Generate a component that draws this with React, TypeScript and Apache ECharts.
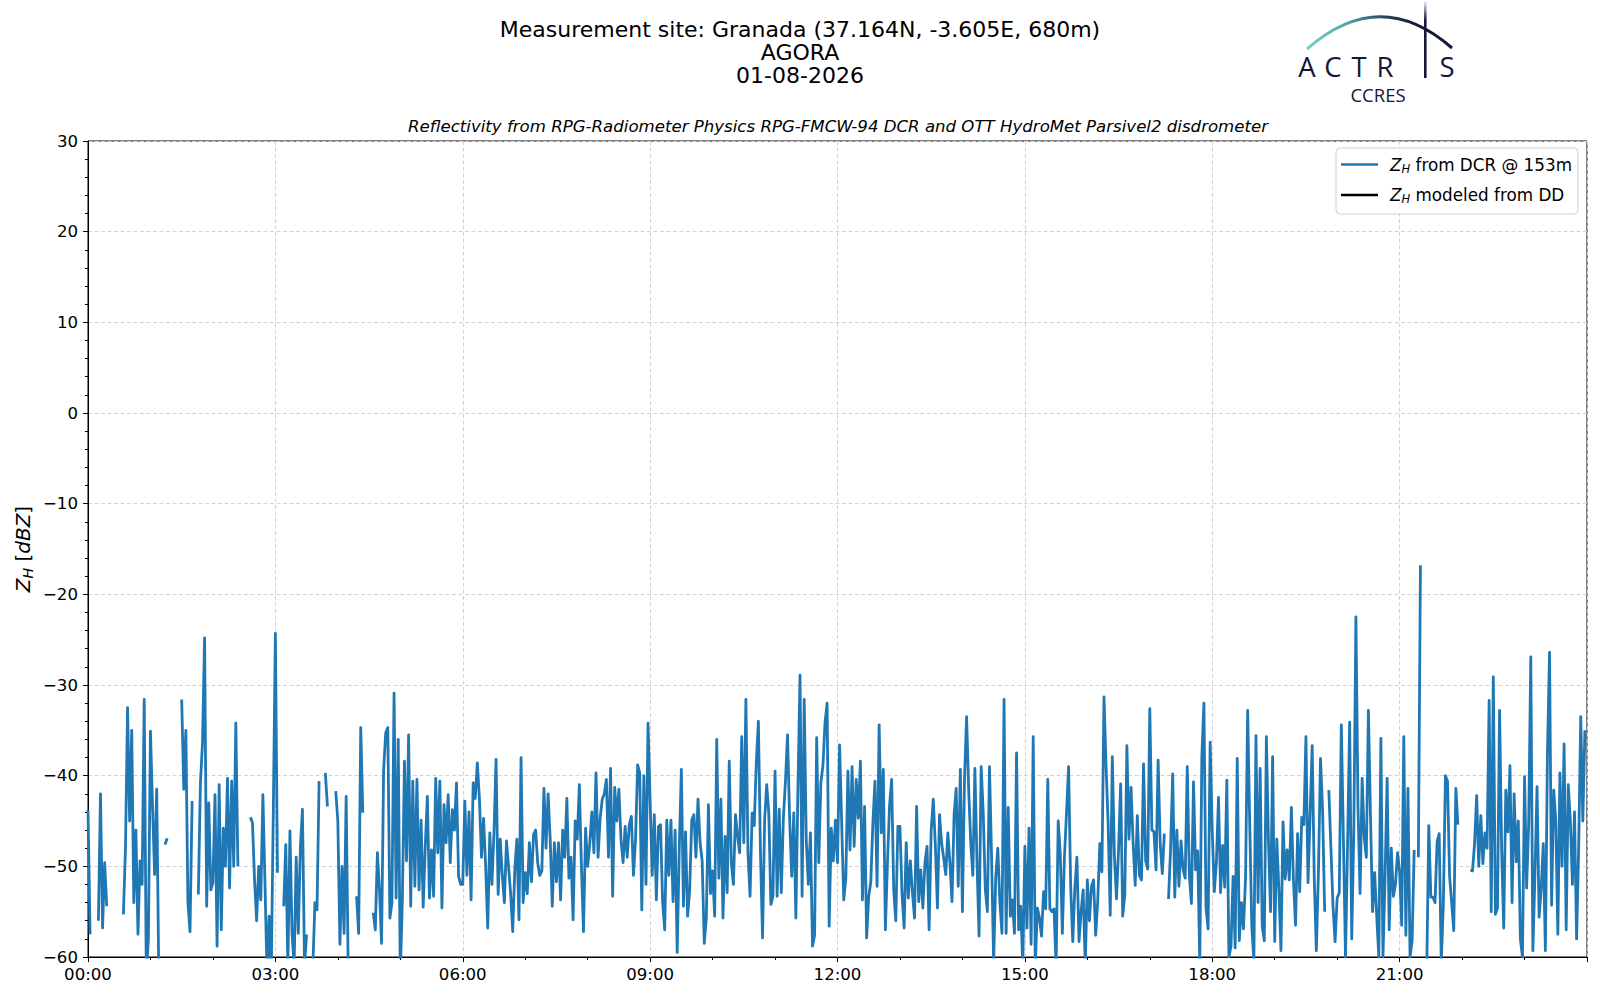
import React, { useEffect, useRef } from 'react';
import * as echarts from 'echarts';

// Sampling step of the DCR reflectivity series (minutes); one row per hour.
const stepMinutes = 2;

const h00 = [-43.8, -57.5, null, null, null, -56, -42, -56.8, -49.6, -54.4, null, null, null, null, null, null, null, -55.3, -48, -32.5, -45, -35, -54, -46, -57.5, -49.4, -52, -31.6, -62, -58];
const h01 = [-35.1, -43.4, -50.9, -41.5, -62, null, null, -47.6, -46.9, null, null, null, null, null, null, -31.6, -41.5, -35, -54, -57.2, -42.8, null, null, -53.1, -40.8, -36.4, -24.8, -54.4, -43, -52.6];
const h02 = [-51.8, -42.1, -58.8, -41, -57, -45.8, -50, -40.3, -52.4, -40.6, -50, -34.2, -50, null, null, null, null, null, -44.6, -45.2, -51.5, -56, -50, -53.7, -42.1, -51.8, -62, -55.5, -62, -44.1];
const h03 = [-24.3, -50.7, null, null, -54.4, -47.6, -61, -46.1, -57.4, -61, -49, -57.4, -48, -43.7, -61, -57.5, null, null, -61, -54, -54.8, -40.6, null, null, -39.7, -43.4, null, null, null, -41.7];
const h04 = [-45, -58.6, -50, -57.4, -42.3, -62, null, null, null, -53.3, -57.4, -34.7, -44.1, null, null, null, null, -55.1, -57, -48.5, -52.6, -58.5, -39.3, -35.3, -34.7, -55.7, -54, -30.9, -53.5, -36];
const h05 = [-62, -53.7, -38.4, -49.4, -35.5, -54.4, -40.6, -52.2, -40.4, -52.6, -44.9, -54.5, -47.8, -42.3, -53.5, -48.2, -53.3, -40.3, -48.5, -40.6, -54.6, -43.2, -47.4, -42.1, -49.6, -43.75, -46, -40.8, -51.1, -52];
const h06 = [-52, -42.8, -51, -44, -53.7, -40.8, -42.5, -38.6, -42.5, -49, -44.7, -50, -56.8, -46.3, -52, -46.3, -38.2, -53.1, -47, -51, -54, -47.2, -50, -53, -57.2, -50.4, -47, -55.9, -38, -54];
const h07 = [-50.7, -53, -47.4, -51.7, -46.5, -46, -49.6, -51, -50.5, -41.4, -48, -42, -47, -54.4, -47.4, -51.7, -47.4, -53.7, -46, -49, -42.5, -51.3, -49, -55.9, -45, -47, -41, -50, -57.2, -45.8];
const h08 = [-50, -47.5, -44, -48.5, -39.7, -49, -44.7, -42.6, -42, -40.4, -49, -39.2, -53.3, -41.3, -45, -41.5, -47, -49.6, -45.6, -49, -45.4, -44.5, -51, -47, -38.8, -39.7, -54.8, -40, -52, -34.2];
const h09 = [-42.8, -51, -44.3, -53.7, -45.6, -45.4, -53.9, -57, -44.9, -51, -44.9, -53.9, -46, -59.5, -48, -39.3, -54.4, -46.2, -55.5, -52.6, -44.9, -44.3, -49, -42.6, -47.4, -49.4, -58.5, -55.7, -43.2, -53];
const h10 = [-50.5, -55.5, -36, -51.3, -42.6, -55.7, -46.7, -52.9, -38.4, -49.6, -52, -44.3, -46.7, -48.5, -35.7, -47.4, -31.6, -48.5, -53.3, -44.1, -45.5, -38.6, -34, -48.5, -57.9, -44.9, -41, -44.1, -54.2, -53.3];
const h11 = [-39.5, -53.3, -43.7, -52.9, -44.7, -40.6, -35.5, -44.7, -51.1, -44.1, -55.7, -41.4, -28.9, -53.3, -31.6, -47.1, -52, -46.3, -58.8, -57.6, -35.8, -49.6, -40.8, -38.9, -34.2, -32, -56.6, -45.8, -49.4, -44.9];
const h12 = [-49.6, -36.6, -45.2, -53.7, -51.3, -39.5, -48.2, -39, -47.8, -40.4, -44.7, -38.4, -53.7, -43.4, -57.9, -53.3, -51.7, -45.2, -40.6, -52.2, -34.4, -46.3, -39.3, -57, -49.6, -43.3, -40.4, -52.6, -56, -45.6];
const h13 = [-45.6, -53.1, -56.8, -47.4, -53.5, -49.4, -52.9, -55.7, -43.4, -53.9, -50.4, -54.6, -49.6, -47.8, -57, -46, -42.6, -47.7, -54.6, -44.3, -47.4, -49.1, -50.9, -46.3, -49.6, -53.9, -44.3, -41.4, -52.2, -39.3];
const h14 = [-55, -40.4, -33.5, -41.5, -47.4, -51, -39.2, -49.6, -57.7, -39, -44.1, -52.6, -55, -39, -49, -60.5, -51.3, -48, -54, -57.4, -31.6, -57.4, -43.5, -55.5, -53.7, -57.4, -37.5, -57, -54.4, -61];
const h15 = [-47.8, -56.8, -45.8, -58.6, -35.7, -61, -54.6, -55.7, -57.7, -52.8, -54.7, -40.4, -54.7, -55, -54.7, -61, -45, -48.5, -57.4, -49, -44.1, -39, -52.2, -58.3, -52.4, -49, -58.3, -55, -52.6, -61];
const h16 = [-51.5, -56, -52.2, -51.5, -57.6, -53.8, -47.5, -50.6, -31.3, -39, -45.3, -55.4, -37.9, -48.8, -53.6, -48.2, -40.9, -55.5, -53.1, -36.7, -47, -41.3, -47.5, -52.1, -44.4, -51, -51.5, -38.7, -49.4, -50.3];
const h17 = [-32.6, -46, -46.2, -50.4, -38.3, -47.5, -50.8, -46.4, null, -53.6, -48, -39.8, -53.4, -46, -52.2, -47.2, -50.4, -51.3, -39, -51, -54.1, -40.7, -50.4, -48.3, -60.5, -37.9, -32, -54.5, -56.9, -36.3];
const h18 = [-46.1, -52.8, -49.5, -42.4, -52.9, -47.7, -52.3, -40.5, -60, -58.8, -51.1, -59, -38.1, -58.2, -54, -56.9, -51.2, -32.8, -45.3, -56.6, -60.5, -35.6, -54, -39.2, -56.6, -58.2, -35.7, -47.2, -55, -37.9];
const h19 = [-58.3, -47, -52.5, -59.3, -45.1, -51.4, -48.2, -51.5, -43.5, -51.5, -56.5, -46.4, -52.8, -44.6, -45.4, -35.7, -51.8, -44.4, -36.7, -51.4, -59.3, -50.6, -38.1, -43.8, -55, null, -41.6, -48, -54.4, -58.3];
const h20 = [-53.5, -52.9, -34.4, -47, -60, -47.5, -34.1, -58, -46, -22.5, -43.4, -53, -40.3, -46.8, -49, -32.8, -44.4, -55, -50.7, -55.5, -60, -35.9, -60, -51.2, -40.3, -57, -48, -53.3, -52, -48.5];
const h21 = [-50.6, -56.5, -35.7, -57.6, -41.4, -60, -58.2, -48.2, null, -49, -16.8, null, null, -62, -45.5, -53.4, -53.4, -54, -47.3, -46.4, -60.5, -54.2, -40, -40.6, -51.1, -54, -57.1, -41.4, -45.4, null];
const h22 = [null, null, null, null, -50.4, -50.5, -47.5, -42.2, -50, -44.4, -49.7, -46.3, -48, -31.7, -55, -29.1, -55.3, -54.6, -32.8, -48.2, -56.8, -41.6, -46.2, -38.9, -54, -42, -49.5, -45, -58, -60];
const h23 = [-40.1, -52.4, -45.1, -26.9, -59.3, -50.9, -41.2, -55.6, -52.5, -47.5, -59.3, -37.6, -26.4, -54.3, -41.6, -44.9, -57.5, -39.7, -50, -36.5, -57, -41, -45, -52, -44, -58, -48, -33.5, -45, -35];

const hourRows = [h00, h01, h02, h03, h04, h05, h06, h07, h08, h09, h10, h11, h12, h13, h14, h15, h16, h17, h18, h19, h20, h21, h22, h23];

const xTickLabels = ['00:00', '03:00', '06:00', '09:00', '12:00', '15:00', '18:00', '21:00'];
const seriesNames = ['dcr', 'dd'];
const legendTexts = ['{z|Z}{s|H}{t| from DCR @ 153m}', '{z|Z}{s|H}{t| modeled from DD}'];
const titleLines = ['Measurement site: Granada (37.164N, -3.605E, 680m)', 'AGORA', '01-08-2026'];
const subtitle = 'Reflectivity from RPG-Radiometer Physics RPG-FMCW-94 DCR and OTT HydroMet Parsivel2 disdrometer';
const logoLetters = ['A', 'C', 'T', 'R', 'S'];

export default function App() {
  const ref = useRef<HTMLDivElement>(null);
  useEffect(() => {
    document.body.style.margin = '0';
    const chart = echarts.init(ref.current as HTMLDivElement, null, { renderer: 'svg' });
    const F = '"DejaVu Sans", sans-serif';
    const LF = '"Open Sans", "Noto Sans", sans-serif';
    const data = hourRows.flatMap((row, h) => row.map((v, k) => [h * 60 + k * stepMinutes, v]));
    const navy = '#15173a';
    const letterX = [1307, 1333, 1359, 1385, 1447];

    const graphic: any[] = [
      ...titleLines.map((t, i) => ({
        type: 'text', x: 800, y: 29 + i * 23, silent: true,
        style: { text: t, font: `22px ${F}`, fill: '#000', align: 'center', verticalAlign: 'middle', textAlign: 'center', textVerticalAlign: 'middle' },
      })),
      {
        type: 'text', x: 838, y: 126, silent: true,
        style: { text: subtitle, font: `italic 16.6px ${F}`, fill: '#000', align: 'center', verticalAlign: 'middle', textAlign: 'center', textVerticalAlign: 'middle' },
      },
      {
        type: 'text', x: 23, y: 549, rotation: Math.PI / 2, silent: true,
        style: {
          text: '{z|Z}{s|H}{n| [}{i|dBZ}{n|]}',
          align: 'center', verticalAlign: 'middle', textAlign: 'center', textVerticalAlign: 'middle',
          fill: '#000',
          rich: {
            z: { fontFamily: F, fontSize: 20, fontStyle: 'italic', lineHeight: 24, fill: '#000' },
            s: { fontFamily: F, fontSize: 14, fontStyle: 'italic', lineHeight: 14, verticalAlign: 'bottom', fill: '#000' },
            n: { fontFamily: F, fontSize: 20, lineHeight: 24, fill: '#000' },
            i: { fontFamily: F, fontSize: 20, fontStyle: 'italic', lineHeight: 24, fill: '#000' },
          },
        },
      },
      // ACTRIS logo: arc
      {
        type: 'bezierCurve', silent: true,
        shape: { x1: 1307, y1: 49, x2: 1452, y2: 48, cpx1: 1380, cpy1: -15 },
        style: {
          fill: 'none', lineWidth: 3,
          stroke: new echarts.graphic.LinearGradient(0, 0, 1, 0, [
            { offset: 0, color: '#7fcfca' },
            { offset: 0.3, color: '#4a9ea6' },
            { offset: 0.55, color: '#23405a' },
            { offset: 0.75, color: navy },
            { offset: 1, color: navy },
          ]),
        },
      },
      // the vertical stroke that doubles as the letter I
      {
        type: 'rect', silent: true,
        shape: { x: 1424, y: 1, width: 2.6, height: 77 },
        style: {
          fill: new echarts.graphic.LinearGradient(0, 0, 0, 1, [
            { offset: 0, color: 'rgba(21,23,58,0.05)' },
            { offset: 0.25, color: navy },
            { offset: 1, color: navy },
          ]),
        },
      },
      ...logoLetters.map((ch, i) => ({
        type: 'text', x: letterX[i], y: 66.5, silent: true,
        style: { text: ch, font: `27.5px ${LF}`, fill: navy, align: 'center', verticalAlign: 'middle', textAlign: 'center', textVerticalAlign: 'middle' },
      })),
      {
        type: 'text', x: 1378, y: 94, silent: true,
        style: { text: 'CCRES', font: `18.5px ${LF}`, fill: navy, align: 'center', verticalAlign: 'middle', textAlign: 'center', textVerticalAlign: 'middle' },
      },
    ];

    chart.setOption({
      animation: false,
      backgroundColor: '#ffffff',
      grid: { left: 88, right: 13, top: 141, bottom: 43, show: true, borderColor: '#000', borderWidth: 1, backgroundColor: 'transparent' },
      xAxis: {
        type: 'value', min: 0, max: 1440, interval: 180,
        axisLine: { show: true, onZero: false, lineStyle: { color: '#000', width: 1 } },
        axisTick: { show: true, length: 5, lineStyle: { color: '#000' } },
        minorTick: { show: true, splitNumber: 3, length: 3, lineStyle: { color: '#000' } },
        axisLabel: {
          fontFamily: F, fontSize: 16.6, color: '#000', margin: 9,
          formatter: (v: number) => (v >= 1440 ? '' : xTickLabels[Math.round(v / 180)]),
        },
        splitLine: { show: true, lineStyle: { color: '#d3d3d3', type: [4, 2.5], width: 1 } },
      },
      yAxis: {
        type: 'value', min: -60, max: 30, interval: 10,
        axisLine: { show: true, onZero: false, lineStyle: { color: '#000', width: 1 } },
        axisTick: { show: true, length: 5, lineStyle: { color: '#000' } },
        minorTick: { show: true, splitNumber: 5, length: 3, lineStyle: { color: '#000' } },
        axisLabel: {
          fontFamily: F, fontSize: 16.6, color: '#000', margin: 10,
          formatter: (v: number) => (v < 0 ? '\u2212' + Math.abs(v) : String(v)),
        },
        splitLine: { show: true, lineStyle: { color: '#d3d3d3', type: [4, 2.5], width: 1 } },
      },
      legend: {
        left: 1336, top: 148, orient: 'vertical', icon: 'rect', itemWidth: 37, itemHeight: 2.6, itemGap: 12,
        padding: [8, 6, 9, 5], borderColor: '#cfcfcf', borderWidth: 1, borderRadius: 4,
        backgroundColor: 'rgba(255,255,255,0.85)', selectedMode: false,
        data: seriesNames,
        formatter: (name: string) => legendTexts[seriesNames.indexOf(name)],
        textStyle: {
          fontFamily: F, fontSize: 16.8, color: '#000',
          rich: {
            z: { fontFamily: F, fontSize: 16.8, fontStyle: 'italic', lineHeight: 20, padding: [0, 0, 0, 7], color: '#000' },
            s: { fontFamily: F, fontSize: 11.5, fontStyle: 'italic', lineHeight: 11, verticalAlign: 'bottom', color: '#000' },
            t: { fontFamily: F, fontSize: 16.8, lineHeight: 20, color: '#000' },
          },
        },
      },
      series: [
        {
          name: seriesNames[0], type: 'line', data, showSymbol: false, symbol: 'none',
          connectNulls: false, clip: true, z: 3,
          lineStyle: { color: '#1f77b4', width: 2.8, join: 'round' }, itemStyle: { color: '#1f77b4' },
        },
        {
          name: seriesNames[1], type: 'line', data: [], showSymbol: false, symbol: 'none',
          lineStyle: { color: '#000', width: 2.6 }, itemStyle: { color: '#000' },
        },
      ],
      graphic,
    });
    return () => chart.dispose();
  }, []);
  return <div ref={ref} style={{ width: 1600, height: 1000 }} />;
}
